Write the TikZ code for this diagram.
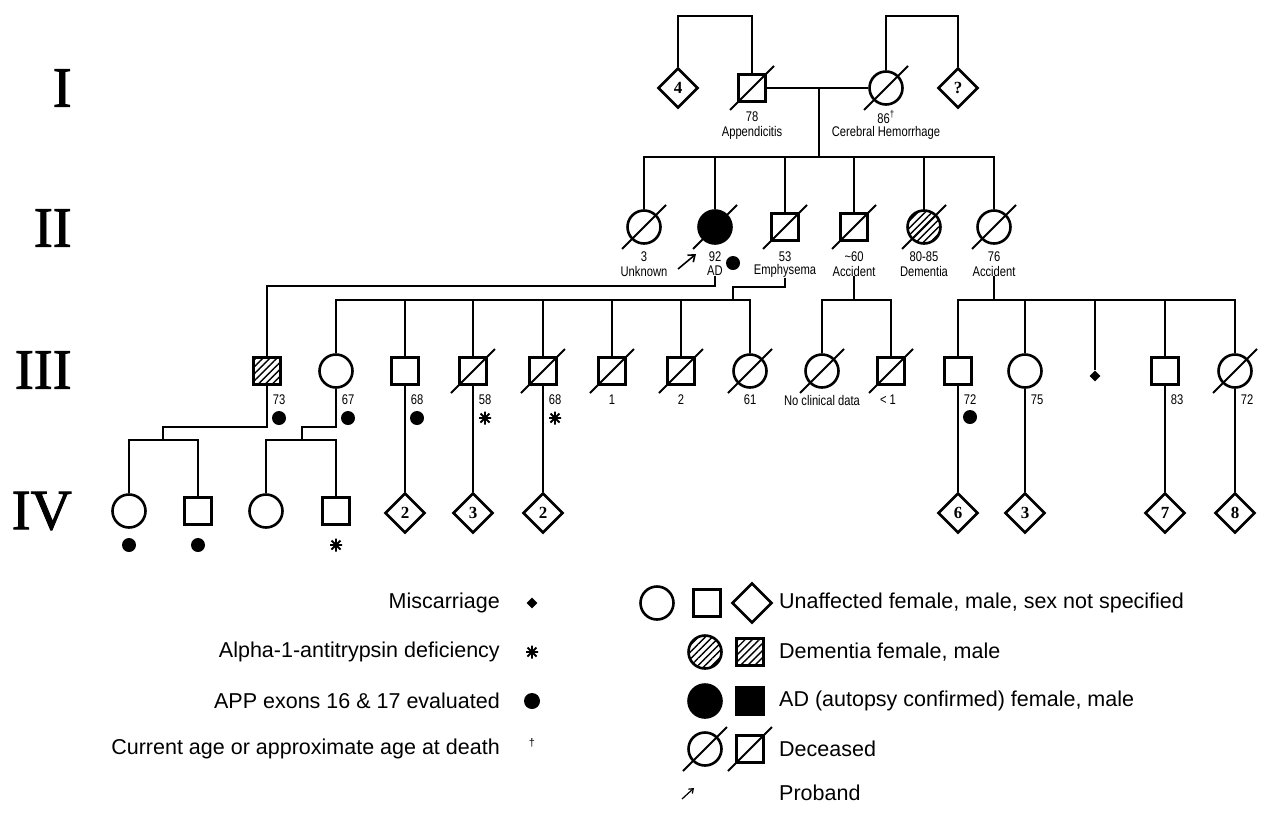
\documentclass[tikz,border=0pt]{standalone}
\usepackage{fontspec}
\setmainfont{Liberation Sans}
\newfontfamily\narrowfont[FakeStretch=0.8]{Liberation Sans}
\newfontfamily\seriffont{Liberation Serif}
\newfontfamily\genserif[FakeBold=1.5]{Liberation Serif}
\usetikzlibrary{shapes.geometric,patterns.meta,arrows.meta}
\newcommand\slashit[1]{\draw[slashline] ([shift={(-22,22)}]#1.center) -- ([shift={(22,-22)}]#1.center);}
\begin{document}
\begin{tikzpicture}[x=1pt,y=-1pt,
  conn/.style={line width=2pt},
  shp/.style={draw, line width=2.6pt, inner sep=0pt},
  fem/.style={shp, circle, minimum size=33pt},
  mal/.style={shp, rectangle, minimum size=27pt},
  unk/.style={shp, diamond, minimum size=40pt, font=\seriffont\bfseries\fontsize{17}{17}\selectfont},
  hatch/.style={pattern={Lines[angle=45,distance=5pt,line width=1.4pt]}},
  aff/.style={fill=black},
  lab/.style={font=\narrowfont\fontsize{14}{14}\selectfont, inner sep=0pt},
  legtext/.style={font=\fontsize{21.5}{21.5}\selectfont, inner sep=0pt},
  dotm/.style={circle, fill=black, minimum size=14pt, inner sep=0pt},
  misc/.style={diamond, fill=black, minimum size=11pt, inner sep=0pt},
  gen/.style={font=\genserif\fontsize{57}{57}\selectfont, anchor=east, inner sep=0pt},
  slashline/.style={line width=2pt},
  ast/.pic={\draw[line width=1.8pt] (-6,0)--(6,0) (0,-6.5)--(0,6.5) (-4.5,-4.5)--(4.5,4.5) (-4.5,4.5)--(4.5,-4.5);},
  barb/.style={-{Straight Barb[length=6pt,width=9pt]}, line width=1.6pt}
]
\fill[white] (0,0) rectangle (1272,812);
\useasboundingbox (0,0) rectangle (1272,812);

% generation labels
\node[gen] (g1) at (72,88) {I};
\node[gen] (g2) at (72,228) {II};
\node[gen] (g3) at (72,370) {III};
\node[gen] (g4) at (72,511) {IV};

% ---------- Generation I ----------
\node[unk] (d4) at (678,88) {4};
\node[mal] (i1) at (752,88) {};
\node[fem] (i2) at (886,88) {};
\node[unk] (dq) at (958,88) {?};
\slashit{i1}\slashit{i2}
\coordinate (t1) at (715,16);
\coordinate (t2) at (922,16);
\draw[conn] (d4.north) |- (t1) -| (i1.north);
\draw[conn] (i2.north) |- (t2) -| (dq.north);
\draw[conn] (i1.east) -- (i2.west);
\coordinate (m1) at (819,88);
\coordinate (s1) at (819,157);
\draw[conn] (m1) -- (s1);
\node[lab] (i1a) at (752,117) {78};
\node[lab] (i1b) at (752,133) {Appendicitis};
\node[lab] (i2a) at (886,117) {86\textsuperscript{†}};
\node[lab] (i2b) at (886,133) {Cerebral Hemorrhage};

% ---------- Generation II ----------
\node[fem] (ii1) at (644,227) {};
\node[fem,aff] (ii2) at (715,227) {};
\node[mal] (ii3) at (785,227) {};
\node[mal] (ii4) at (854,227) {};
\node[fem,hatch] (ii5) at (924,227) {};
\node[fem] (ii6) at (994,227) {};
\foreach \n in {ii1,ii2,ii3,ii4,ii5,ii6} {\slashit{\n}}
\draw[conn] (ii1.north) |- (ii6.north |- s1) -- (ii6.north);
\foreach \n in {ii2,ii3,ii4,ii5} {\draw[conn] (\n.north) -- (\n.north |- s1);}
\node[lab] (ii1a) at (644,257) {3};
\node[lab] (ii1b) at (644,271) {Unknown};
\node[lab] (ii2a) at (715,257) {92};
\node[lab] (ii2b) at (715,271) {AD};
\node[lab] (ii3a) at (785,257) {53};
\node[lab] (ii3b) at (785,271) {Emphysema};
\node[lab] (ii4a) at (854,257) {\textasciitilde60};
\node[lab] (ii4b) at (854,271) {Accident};
\node[lab] (ii5a) at (924,257) {80-85};
\node[lab] (ii5b) at (924,271) {Dementia};
\node[lab] (ii6a) at (994,257) {76};
\node[lab] (ii6b) at (994,271) {Accident};
\node[dotm] (ii2d) at (733,263) {};
\coordinate (pa1) at (678,269);
\coordinate (pa2) at (696,254);
\draw[barb] (pa1) -- (pa2);

% ---------- Generation III ----------
\node[mal,hatch] (iii1) at (267,371) {};
\node[fem] (iii2) at (336,371) {};
\node[mal] (iii3) at (405,371) {};
\node[mal] (iii4) at (473,371) {};
\node[mal] (iii5) at (543,371) {};
\node[mal] (iii6) at (612,371) {};
\node[mal] (iii7) at (681,371) {};
\node[fem] (iii8) at (750,371) {};
\node[fem] (iii9) at (822,371) {};
\node[mal] (iii10) at (891,371) {};
\node[mal] (iii11) at (958,371) {};
\node[fem] (iii12) at (1025,371) {};
\node[misc] (mc) at (1095,376) {};
\node[mal] (iii13) at (1165,371) {};
\node[fem] (iii14) at (1235,371) {};
\foreach \n in {iii4,iii5,iii6,iii7,iii8,iii9,iii10,iii14} {\slashit{\n}}

\coordinate (yA) at (0,286);
\coordinate (yC) at (0,300);
\coordinate (e1) at (733,287);
\coordinate (e2) at (733,300);
\draw[conn] (ii2b.south) -- (ii2b.south |- yA) -| (iii1.north);
\draw[conn] (ii3b.south) |- (e1) -- (e2);
\draw[conn] (iii2.north) |- (iii8.north |- yC) -- (iii8.north);
\foreach \n in {iii3,iii4,iii5,iii6,iii7} {\draw[conn] (\n.north) -- (\n.north |- yC);}
\draw[conn] (ii4b.south) -- (ii4b.south |- yC);
\draw[conn] (iii9.north) |- (iii10.north |- yC) -- (iii10.north);
\draw[conn] (ii6b.south) -- (ii6b.south |- yC);
\draw[conn] (iii11.north) |- (iii14.north |- yC) -- (iii14.north);
\foreach \n in {iii12,mc,iii13} {\draw[conn] (\n.north) -- (\n.north |- yC);}

\node[lab] (l1) at (279,400) {73};
\node[lab] (l2) at (348,400) {67};
\node[lab] (l3) at (417,400) {68};
\node[lab] (l4) at (485,400) {58};
\node[lab] (l5) at (555,400) {68};
\node[lab] (l6) at (612,400) {1};
\node[lab] (l7) at (681,400) {2};
\node[lab] (l8) at (750,400) {61};
\node[lab] (l9) at (822,400) {No clinical data};
\node[lab] (l10) at (888,400) {< 1};
\node[lab] (l11) at (970,400) {72};
\node[lab] (l12) at (1037,400) {75};
\node[lab] (l13) at (1177,400) {83};
\node[lab] (l14) at (1247,400) {72};
\node[dotm] (dt1) at (279,418) {};
\node[dotm] (dt2) at (348,418) {};
\node[dotm] (dt3) at (417,418) {};
\pic (as4) at (485,418) {ast};
\pic (as5) at (555,418) {ast};
\node[dotm] (dt11) at (970,417) {};

% ---------- Generation IV ----------
\node[fem] (iv1) at (129,511) {};
\node[mal] (iv2) at (198,511) {};
\node[fem] (iv3) at (266,511) {};
\node[mal] (iv4) at (336,511) {};
\node[unk] (iv5) at (405,513) {2};
\node[unk] (iv6) at (473,513) {3};
\node[unk] (iv7) at (543,513) {2};
\node[unk] (iv8) at (958,513) {6};
\node[unk] (iv9) at (1025,513) {3};
\node[unk] (iv10) at (1165,513) {7};
\node[unk] (iv11) at (1235,513) {8};
\coordinate (k1t) at (163,427);
\coordinate (k1) at (163,440);
\coordinate (k2t) at (302,427);
\coordinate (k2) at (302,440);
\draw[conn] (iii1.south) |- (k1t) -- (k1);
\draw[conn] (iv1.north) |- (iv2.north |- k1) -- (iv2.north);
\draw[conn] (iii2.south) |- (k2t) -- (k2);
\draw[conn] (iv3.north) |- (iv4.north |- k2) -- (iv4.north);
\draw[conn] (iii3.south) -- (iv5.north);
\draw[conn] (iii4.south) -- (iv6.north);
\draw[conn] (iii5.south) -- (iv7.north);
\draw[conn] (iii11.south) -- (iv8.north);
\draw[conn] (iii12.south) -- (iv9.north);
\draw[conn] (iii13.south) -- (iv10.north);
\draw[conn] (iii14.south) -- (iv11.north);
\node[dotm] (dv1) at (129,545) {};
\node[dotm] (dv2) at (198,545) {};
\pic (asv4) at (336,545) {ast};

% ---------- Legend left ----------
\node[legtext, anchor=east] (lt1) at (500,603) {Miscarriage};
\node[legtext, anchor=east] (lt2) at (500,652) {Alpha-1-antitrypsin deficiency};
\node[legtext, anchor=east] (lt3) at (500,701) {APP exons 16 \& 17 evaluated};
\node[legtext, anchor=east] (lt4) at (500,749) {Current age or approximate age at death};
\node[misc] (lm1) at (532,603) {};
\pic (lm2) at (532,652) {ast};
\node[dotm, minimum size=16pt] (lm3) at (532,701) {};
\node[font=\fontsize{11}{11}\selectfont, inner sep=0pt] (lm4) at (532,743) {†};

% ---------- Legend right ----------
\node[fem] (rc1) at (657,603) {};
\node[mal] (rs1) at (707,603) {};
\node[unk] (rd1) at (752,603) {};
\node[legtext, anchor=west] (rt1) at (779,603) {Unaffected female, male, sex not specified};
\node[fem,hatch] (rc2) at (705,652) {};
\node[mal,hatch] (rs2) at (750,652) {};
\node[legtext, anchor=west] (rt2) at (779,652) {Dementia female, male};
\node[fem,aff] (rc3) at (705,701) {};
\node[mal,aff] (rs3) at (750,701) {};
\node[legtext, anchor=west] (rt3) at (779,701) {AD (autopsy confirmed) female, male};
\node[fem] (rc4) at (705,749) {};
\node[mal] (rs4) at (750,749) {};
\slashit{rc4}\slashit{rs4}
\node[legtext, anchor=west] (rt4) at (779,749) {Deceased};
\coordinate (la1) at (682,799);
\coordinate (la2) at (694,788);
\draw[-{Straight Barb[length=4pt,width=6pt]}, line width=1.2pt] (la1) -- (la2);
\node[legtext, anchor=west] (rt5) at (779,793) {Proband};
\end{tikzpicture}
\end{document}
